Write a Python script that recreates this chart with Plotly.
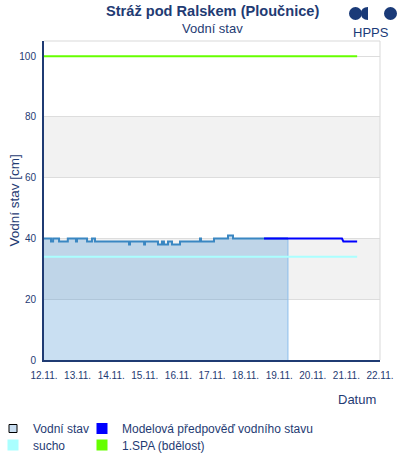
import plotly.graph_objects as go

# ---- data ----
obs_time = ["2024-11-12 00:00", "2024-11-12 05:00", "2024-11-12 06:30", "2024-11-12 10:45",
            "2024-11-12 17:00", "2024-11-12 22:50", "2024-11-12 23:35", "2024-11-13 06:45",
            "2024-11-13 10:15", "2024-11-13 12:25", "2024-11-14 12:45", "2024-11-14 13:25",
            "2024-11-14 23:30", "2024-11-15 00:10", "2024-11-15 09:25", "2024-11-15 12:15",
            "2024-11-15 13:40", "2024-11-15 16:35", "2024-11-15 19:25", "2024-11-16 01:10",
            "2024-11-16 15:25", "2024-11-16 16:10", "2024-11-17 01:25", "2024-11-17 11:25",
            "2024-11-17 15:00", "2024-11-19 06:15"]
obs_level = [40, 39, 40, 39, 40, 39, 40, 39, 40, 39, 38, 39, 38, 39, 38, 39, 38, 39, 38, 39,
             40, 39, 40, 41, 40, 40]

fc_time = ["2024-11-18 13:10", "2024-11-20 20:50", "2024-11-20 21:50", "2024-11-21 07:40"]
fc_level = [40, 40, 39, 39]

thr_time = ["2024-11-12 00:00", "2024-11-21 07:40"]
sucho_level = [34, 34]
spa1_level = [100, 100]

x_range = ["2024-11-12 00:00", "2024-11-22 00:00"]
y_range = [0, 105]
y_ticks = [0, 20, 40, 60, 80, 100]

NAVY = "#1f3b73"
LOGO = "#1a3a78"
FONT = "Liberation Sans, Arial, sans-serif"

fig = go.Figure()

# observed area
fig.add_trace(go.Scatter(
    x=obs_time + [obs_time[-1]], y=obs_level + [0], mode="lines", line_shape="hv",
    fill="tozeroy", fillcolor="rgba(60,140,210,0.28)",
    line=dict(color="rgba(140,190,235,1)", width=1), showlegend=False, hoverinfo="skip"))
# thresholds
fig.add_trace(go.Scatter(x=thr_time, y=sucho_level, mode="lines",
                         line=dict(color="#aaffff", width=2), showlegend=False))
fig.add_trace(go.Scatter(x=thr_time, y=spa1_level, mode="lines",
                         line=dict(color="#66ff00", width=2), showlegend=False))
# observed line
fig.add_trace(go.Scatter(x=obs_time, y=obs_level, mode="lines", line_shape="hv",
                         line=dict(color="#3a87c2", width=2), showlegend=False))
# forecast
fig.add_trace(go.Scatter(x=fc_time, y=fc_level, mode="lines",
                         line=dict(color="#0000ff", width=2), showlegend=False))

# legend entries (one legend per entry for exact placement)
def leg(name, color, legend, size=11, border="rgba(0,0,0,0)", bw=0):
    fig.add_trace(go.Scatter(x=[None], y=[None], mode="markers", name=name, legend=legend,
                             marker=dict(symbol="square", size=size, color=color,
                                         line=dict(color=border, width=bw))))

leg("Vodní stav", "#c8ddf0", "legend", 8, "#000000", 1)
leg("sucho", "#aaffff", "legend2")
leg("Modelová předpověď vodního stavu", "#0000ff", "legend3")
leg("1.SPA (bdělost)", "#66ff00", "legend4")

def legpos(xpx, ypx, indent=0):
    return dict(xref="container", yref="container", x=xpx / 400.0, y=(460 - ypx) / 460.0,
                xanchor="left", yanchor="middle", font=dict(size=12, color=NAVY),
                bgcolor="rgba(0,0,0,0)", borderwidth=0, indentation=indent)

shapes = []
for lo, hi in [(20, 40), (60, 80)]:
    shapes.append(dict(type="rect", xref="paper", yref="y", x0=0, x1=1, y0=lo, y1=hi,
                       fillcolor="#f2f2f2", line=dict(width=0), layer="below"))
shapes.append(dict(type="line", xref="paper", yref="paper", x0=0, x1=1, y0=1, y1=1,
                   line=dict(color="#d9d9d9", width=1)))
shapes.append(dict(type="line", xref="paper", yref="paper", x0=1, x1=1, y0=0, y1=1,
                   line=dict(color="#d9d9d9", width=1)))

fig.update_layout(
    width=400, height=460,
    margin=dict(l=44, r=20, t=41, b=100, autoexpand=False),
    paper_bgcolor="white", plot_bgcolor="white",
    font=dict(family=FONT, color=NAVY, size=11),
    shapes=shapes,
    xaxis=dict(range=x_range, type="date", dtick=86400000, tickformat="%d.%m.",
               tick0="2024-11-12", showgrid=False, showline=True, linecolor=NAVY, linewidth=2,
               ticks="", zeroline=False, tickfont=dict(size=10, color=NAVY),
               ticklabelstandoff=5, title=dict(text="")),
    yaxis=dict(range=y_range, tickvals=y_ticks, showgrid=True, gridcolor="#dddddd",
               showline=True, linecolor=NAVY, linewidth=2, ticks="", zeroline=False,
               tickfont=dict(size=10, color=NAVY), ticklabelstandoff=4,
               title=dict(text="")),
    legend=legpos(0, 428.5, -7),
    legend2=legpos(0, 445, -7),
    legend3=legpos(82, 428.5),
    legend4=legpos(82, 445),
    annotations=[
        dict(text="<b>Stráž pod Ralskem (Ploučnice)</b>", xref="paper", yref="paper",
             x=0.5, xanchor="center", y=1, yshift=30, yanchor="middle", showarrow=False,
             font=dict(size=14.6, color=NAVY)),
        dict(text="Vodní stav", xref="paper", yref="paper", x=0.5, xanchor="center",
             y=1, yshift=13, yanchor="middle", showarrow=False, font=dict(size=13, color=NAVY)),
        dict(text="Vodní stav [cm]", xref="paper", yref="paper", x=0, xshift=-30, xanchor="center",
             y=0.5, yanchor="middle", textangle=-90, showarrow=False,
             font=dict(size=13.5, color=NAVY)),
        dict(text="Datum", xref="paper", yref="paper", x=1, xanchor="right", xshift=-2,
             y=0, yshift=-39, yanchor="middle", showarrow=False, font=dict(size=13, color=NAVY)),
        dict(text="HPPS", xref="paper", yref="paper", x=1, xshift=-9, xanchor="center",
             y=1, yshift=9, yanchor="middle", showarrow=False, font=dict(size=13, color=LOGO)),
    ],
)

# logo shapes (paper coordinates computed from the plot-area pixel box)
def px_x(px):
    return (px - 44) / 336.0

def px_y(py):
    return (360 - py) / 319.0

fig.add_shape(type="circle", xref="paper", yref="paper", x0=px_x(349), x1=px_x(362),
              y0=px_y(20), y1=px_y(7), fillcolor=LOGO, line=dict(width=0))
fig.add_shape(type="path", xref="paper", yref="paper",
              path=f"M {px_x(368)},{px_y(7)} Q {px_x(361)},{px_y(7)} {px_x(361)},{px_y(13.5)} "
                   f"Q {px_x(361)},{px_y(20)} {px_x(368)},{px_y(20)} Z",
              fillcolor=LOGO, line=dict(width=0))
fig.add_shape(type="circle", xref="paper", yref="paper", x0=px_x(384), x1=px_x(397),
              y0=px_y(20), y1=px_y(7), fillcolor=LOGO, line=dict(width=0))

fig.write_html("out.html", config={"displayModeBar": False},
               post_script="document.body.style.margin='0px';")
